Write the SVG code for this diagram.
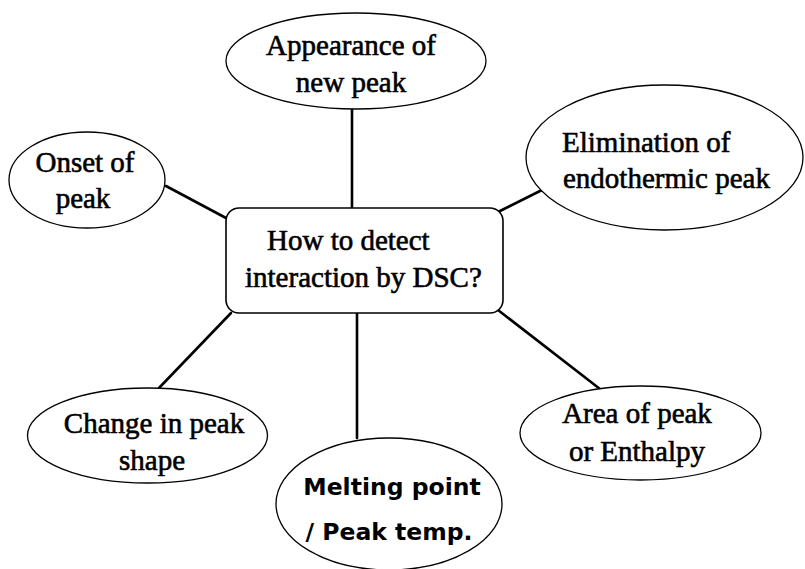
<svg xmlns="http://www.w3.org/2000/svg" width="805" height="569" viewBox="0 0 805 569">
<style>
.bg{fill:#fff}
.el{fill:#fff;stroke:#000;stroke-width:1.3}
.box{fill:#fff;stroke:#000;stroke-width:1.6}
.con line{stroke:#000;stroke-width:2.6;stroke-linecap:round}
.t{font-family:"Liberation Serif","Times New Roman",serif;font-size:29px;fill:#000;stroke:#000;stroke-width:0.6}
.m{font-family:"DejaVu Sans","Verdana",sans-serif;font-weight:bold;font-size:23.5px;fill:#000}
</style>
<rect class="bg" x="0" y="0" width="805" height="569"/>
<g id="connectors" class="con">
<line x1="352" y1="108" x2="352" y2="208"/>
<line x1="166" y1="186" x2="226" y2="218"/>
<line x1="542" y1="190" x2="498" y2="212"/>
<line x1="231" y1="313" x2="159" y2="388"/>
<line x1="357" y1="314" x2="357" y2="438"/>
<line x1="498" y1="310" x2="600" y2="389"/>
</g>
<g id="center">
<rect class="box" x="226" y="208" width="277" height="105" rx="13" ry="13"/>
<text class="t" x="267" y="250">How to detect</text>
<text class="t" x="245" y="287">interaction by DSC?</text>
</g>
<g id="appearance">
<ellipse class="el" cx="356" cy="61" rx="130" ry="48"/>
<text class="t" x="351" y="55" text-anchor="middle">Appearance of</text>
<text class="t" x="351" y="92" text-anchor="middle">new peak</text>
</g>
<g id="onset">
<ellipse class="el" cx="87" cy="180" rx="78" ry="48"/>
<text class="t" x="85" y="172" text-anchor="middle">Onset of</text>
<text class="t" x="83" y="208" text-anchor="middle">peak</text>
</g>
<g id="elimination">
<ellipse class="el" cx="664.5" cy="157.5" rx="138.5" ry="72.5"/>
<text class="t" x="562" y="152">Elimination of</text>
<text class="t" x="563" y="188">endothermic peak</text>
</g>
<g id="change">
<ellipse class="el" cx="147.5" cy="435.5" rx="120" ry="47.5"/>
<text class="t" x="154" y="433" text-anchor="middle">Change in peak</text>
<text class="t" x="152" y="470" text-anchor="middle">shape</text>
</g>
<g id="melting">
<ellipse class="el" cx="389" cy="504" rx="113" ry="66"/>
<text class="m" x="392" y="495" text-anchor="middle">Melting point</text>
<text class="m" x="389" y="540" text-anchor="middle">/ Peak temp.</text>
</g>
<g id="area">
<ellipse class="el" cx="640.5" cy="433" rx="120.5" ry="47"/>
<text class="t" x="637" y="423" text-anchor="middle">Area of peak</text>
<text class="t" x="637" y="461" text-anchor="middle">or Enthalpy</text>
</g>
</svg>
